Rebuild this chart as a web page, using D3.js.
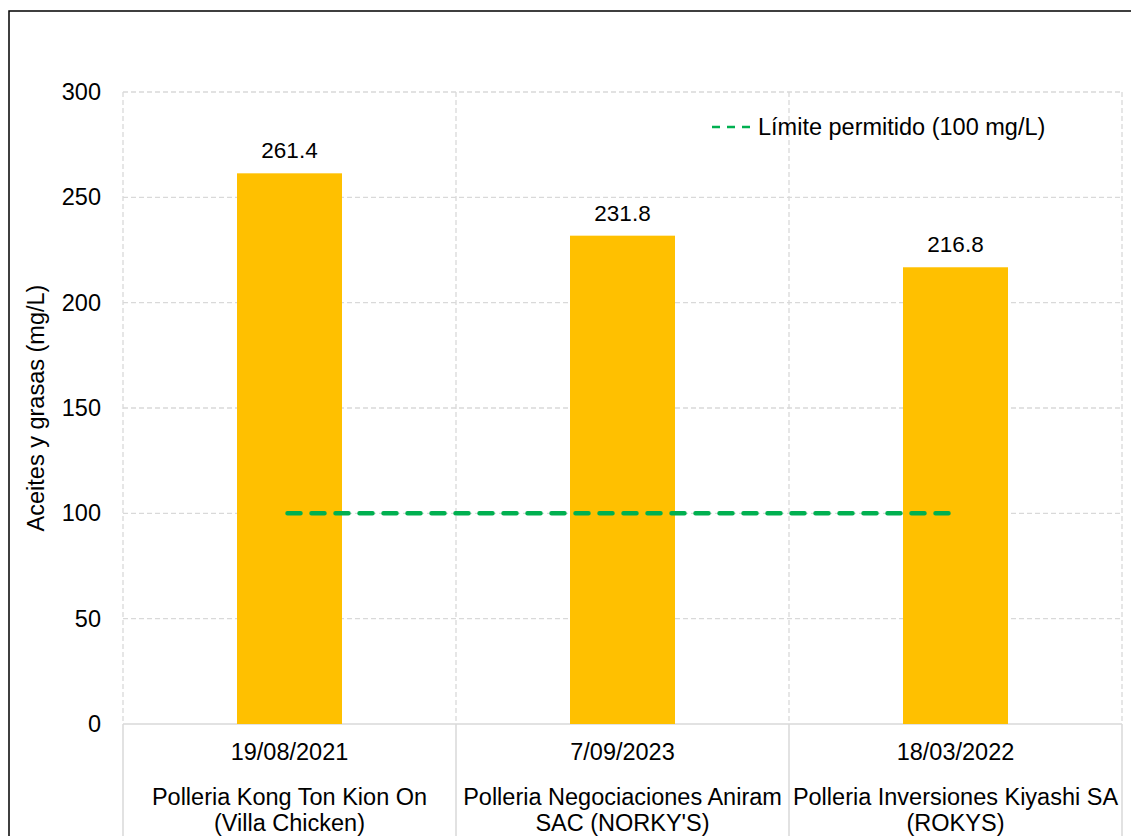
<!DOCTYPE html>
<html>
<head>
<meta charset="utf-8">
<script src="https://cdn.jsdelivr.net/npm/d3@7"></script>
<style>
  body { margin: 0; background: #fff; }
  text { font-family: Arial, "Liberation Sans", sans-serif; fill: #000; }
</style>
</head>
<body>
<div id="chart"></div>
<script>
// data
const dates = ["19/08/2021", "7/09/2023", "18/03/2022"];
const names = [
  ["Polleria Kong Ton Kion On", "(Villa Chicken)"],
  ["Polleria Negociaciones Aniram", "SAC (NORKY'S)"],
  ["Polleria Inversiones Kiyashi SA", "(ROKYS)"]
];
const values = [261.4, 231.8, 216.8];
const limitValue = 100;
const yTicks = [0, 50, 100, 150, 200, 250, 300];
const legendLabel = "Límite permitido (100 mg/L)";
const yLabel = "Aceites y grasas (mg/L)";

const width = 1131, height = 836;
const margins = { top: 92, right: 9, bottom: 112, left: 123 };
const fs = "23.5px";

const svg = d3.select("#chart").append("svg")
  .attr("width", width)
  .attr("height", height);

// outer frame
svg.append("rect")
  .attr("x", 9).attr("y", 11)
  .attr("width", width + 20).attr("height", height + 20)
  .attr("fill", "none").attr("stroke", "#000").attr("stroke-width", 1.5);

const x = d3.scaleBand()
  .domain(dates)
  .range([margins.left, width - margins.right])
  .paddingInner(0).paddingOuter(0);

const y = d3.scaleLinear()
  .domain([0, 300])
  .range([height - margins.bottom, margins.top]);

const gridColor = "#d9d9d9";

// horizontal grid
svg.append("g")
  .selectAll("line")
  .data(yTicks.filter(d => d > 0))
  .enter().append("line")
  .attr("x1", x.range()[0]).attr("x2", x.range()[1])
  .attr("y1", d => y(d)).attr("y2", d => y(d))
  .attr("stroke", gridColor).attr("stroke-width", 1.3)
  .attr("stroke-dasharray", "5,3");

// vertical grid at category boundaries (plot area)
const bounds = dates.map(d => x(d)).concat([x.range()[1]]);
svg.append("g")
  .selectAll("line")
  .data(bounds)
  .enter().append("line")
  .attr("x1", d => d).attr("x2", d => d)
  .attr("y1", y(300)).attr("y2", y(0))
  .attr("stroke", gridColor).attr("stroke-width", 1.3)
  .attr("stroke-dasharray", "5,3");

// category axis boxes
svg.append("line")
  .attr("x1", x.range()[0]).attr("x2", x.range()[1])
  .attr("y1", y(0)).attr("y2", y(0))
  .attr("stroke", gridColor).attr("stroke-width", 1.5);
svg.append("g")
  .selectAll("line")
  .data(bounds)
  .enter().append("line")
  .attr("x1", d => d).attr("x2", d => d)
  .attr("y1", y(0)).attr("y2", height)
  .attr("stroke", gridColor).attr("stroke-width", 1.5);

// y tick labels
svg.append("g")
  .selectAll("text")
  .data(yTicks)
  .enter().append("text")
  .attr("x", 101)
  .attr("y", d => y(d) + 8)
  .attr("text-anchor", "end")
  .style("font-size", fs)
  .text(d => d);

// y axis title
svg.append("text")
  .attr("transform", `translate(44,${(y(0) + y(300)) / 2}) rotate(-90)`)
  .attr("text-anchor", "middle")
  .style("font-size", fs)
  .text(yLabel);

// bars
const barW = 105;
svg.append("g")
  .selectAll("rect")
  .data(values)
  .enter().append("rect")
  .attr("x", (d, i) => x(dates[i]) + x.bandwidth() / 2 - barW / 2)
  .attr("y", d => y(d))
  .attr("width", barW)
  .attr("height", d => y(0) - y(d))
  .attr("fill", "#FFC000");

// value labels
svg.append("g")
  .selectAll("text")
  .data(values)
  .enter().append("text")
  .attr("x", (d, i) => x(dates[i]) + x.bandwidth() / 2)
  .attr("y", d => y(d) - 15)
  .attr("text-anchor", "middle")
  .style("font-size", "22.5px")
  .text(d => d.toFixed(1));

// limit line
const green = "#00B050";
svg.append("line")
  .attr("x1", x(dates[0]) + x.bandwidth() / 2 - 2)
  .attr("x2", x(dates[2]) + x.bandwidth() / 2 - 4)
  .attr("y1", y(limitValue)).attr("y2", y(limitValue))
  .attr("stroke", green).attr("stroke-width", 4.5)
  .attr("stroke-linecap", "round")
  .attr("stroke-dasharray", "13,11");

// category labels
const cat = svg.append("g");
dates.forEach((d, i) => {
  const cx = x(d) + x.bandwidth() / 2;
  cat.append("text")
    .attr("x", cx).attr("y", 760)
    .attr("text-anchor", "middle")
    .style("font-size", fs)
    .text(d);
  names[i].forEach((line, j) => {
    cat.append("text")
      .attr("x", cx).attr("y", 805 + j * 26)
      .attr("text-anchor", "middle")
      .style("font-size", fs)
      .text(line);
  });
});

// legend
const lg = svg.append("g");
lg.append("line")
  .attr("x1", 712).attr("x2", 750)
  .attr("y1", 127).attr("y2", 127)
  .attr("stroke", green).attr("stroke-width", 2.5)
  .attr("stroke-dasharray", "8,7");
lg.append("text")
  .attr("x", 758).attr("y", 135)
  .style("font-size", fs)
  .text(legendLabel);
</script>
</body>
</html>
